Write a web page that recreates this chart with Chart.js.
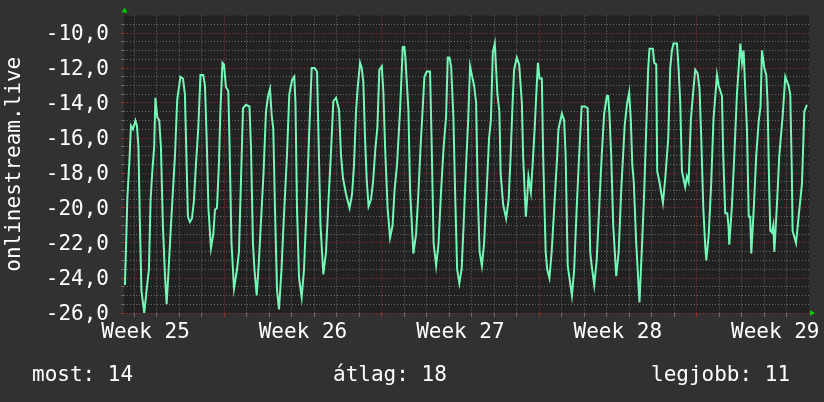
<!DOCTYPE html>
<html>
<head>
<meta charset="utf-8">
<script src="https://cdn.jsdelivr.net/npm/chart.js@4.4.1/dist/chart.umd.min.js"></script>
<style>
html, body { margin: 0; padding: 0; background: #313131; }
#wrap { width: 824px; height: 402px; }
</style>
</head>
<body>
<div id="wrap"><canvas id="chart" width="824" height="402"></canvas></div>
<script>
// time in hours, 0 = first day line of the graph
const hours = [
  -10.0, -7.4, -5.2, -3.6, -1.5, 1.2, 2.8, 4.4, 6.0, 7.6, 10.6, 13.5, 15.6, 17.4, 19.1, 21.2, 22.5, 24.5, 26.6, 28.4,
  30.5, 32.7, 34.5, 36.4, 39.1, 40.7, 43.4, 45.8, 49.2, 51.9, 54.0, 55.6, 57.2, 59.4, 61.5, 63.6, 65.8, 68.2, 70.6, 73.6,
  75.4, 77.2, 79.1, 81.8, 84.3, 86.1, 88.2, 90.3, 91.9, 94.1, 95.7, 97.8, 100.3, 101.5, 103.7, 106.4, 109.6, 111.7, 113.8, 116.0,
  119.2, 122.9, 124.5, 126.6, 128.2, 130.6, 133.0, 137.9, 140.5, 142.7, 144.8, 146.6, 148.3, 150.1, 152.3, 154.4, 157.1, 159.2, 162.9, 165.4,
  168.3, 170.7, 172.0, 173.6, 175.8, 178.6, 181.1, 183.8, 186.4, 189.3, 192.3, 195.0, 196.6, 198.7, 201.7, 204.6, 207.3, 209.9, 212.4, 215.3,
  218.5, 220.6, 222.7, 225.9, 229.7, 232.4, 234.5, 236.6, 238.4, 240.9, 242.7, 244.4, 246.2, 248.0, 250.0, 252.6, 254.8, 257.4, 259.4, 261.5,
  264.1, 265.8, 267.6, 270.3, 272.9, 275.6, 277.7, 280.4, 283.6, 286.5, 288.2, 289.3, 292.5, 294.3, 297.8, 300.7, 302.8, 305.5, 309.6, 312.1,
  315.6, 317.2, 319.4, 322.1, 324.7, 327.4, 330.1, 332.7, 334.5, 336.3, 338.1, 340.5, 342.3, 344.5, 346.9, 349.3, 351.4, 354.1, 356.2, 358.3,
  360.2, 362.6, 364.8, 366.4, 368.5, 370.9, 373.3, 376.0, 378.6, 380.5, 382.6, 384.7, 387.5, 389.6, 390.9, 393.6, 396.8, 399.5, 401.6, 403.7,
  405.3, 408.2, 410.7, 413.6, 414.9, 417.8, 419.2, 420.6, 423.2, 425.1, 427.2, 428.8, 430.7, 432.4, 434.9, 436.3, 439.0, 440.6, 443.0, 445.4,
  448.1, 451.3, 452.6, 456.3, 458.7, 460.3, 462.5, 464.1, 467.0, 469.4, 472.1, 474.7, 477.4, 481.2, 483.8, 484.9, 486.5, 487.6, 490.8, 493.4,
  496.1, 498.8, 501.4, 504.3, 505.7, 507.1, 508.9, 511.1, 514.3, 516.9, 519.6, 523.3, 525.7, 528.1, 529.9, 531.4, 533.0, 535.6, 539.1, 541.5,
  544.2, 547.0, 548.4, 549.8, 553.4, 554.8, 557.0, 558.0, 560.7, 564.1, 566.6, 569.8, 571.9, 573.7, 575.4, 579.1, 580.8, 582.6, 584.4, 587.9,
  589.7, 591.5, 594.0, 596.2, 598.6, 601.1, 603.2, 605.0, 607.2, 609.3, 610.4, 613.0, 615.7, 618.1, 621.8, 623.5, 627.1, 628.5, 630.6, 632.8,
  634.2, 634.9, 637.6, 640.3, 643.1, 646.7, 648.5, 650.2, 652.0, 653.8, 655.7, 657.3, 658.4, 661.1, 663.7, 666.4, 668.3, 669.8, 672.3, 674.4,
  675.8, 677.6, 678.7, 680.5, 681.9, 683.0, 685.6, 688.3, 691.8, 694.7, 698.2, 700.0, 701.7, 702.5, 706.2, 708.9, 712.5, 715.0, 717.7
];
const temps = [
  -24.4, -19.4, -17.3, -15.3, -15.5, -15.0, -15.3, -16.5, -21.0, -24.7, -26.0, -24.5, -23.5, -19.5, -18.0, -16.5, -13.7, -14.8, -15.0, -16.5,
  -21.0, -23.8, -25.5, -23.7, -21.0, -19.5, -17.0, -13.8, -12.5, -12.6, -13.5, -17.0, -20.5, -20.8, -20.6, -19.6, -17.5, -15.5, -12.4, -12.4,
  -13.0, -16.0, -20.0, -22.3, -21.5, -20.1, -20.0, -17.5, -14.4, -11.7, -11.8, -13.1, -13.3, -16.0, -22.0, -24.6, -23.5, -22.5, -18.5, -14.3,
  -14.1, -14.2, -16.5, -22.0, -23.5, -25.0, -23.0, -18.0, -14.5, -13.6, -13.2, -14.7, -15.5, -20.0, -24.7, -25.8, -23.5, -21.0, -17.0, -13.5,
  -12.7, -12.5, -14.0, -20.0, -24.0, -25.1, -23.5, -20.0, -16.0, -12.0, -12.0, -12.2, -16.0, -21.0, -23.8, -22.5, -19.5, -16.8, -13.9, -13.7,
  -14.4, -17.0, -18.3, -19.2, -20.0, -19.2, -17.5, -14.5, -13.1, -11.7, -12.0, -12.8, -16.0, -18.4, -19.9, -19.5, -18.5, -16.5, -15.4, -12.1,
  -11.9, -13.4, -16.5, -20.0, -21.7, -21.0, -19.0, -17.5, -14.4, -10.8, -10.8, -11.4, -14.4, -19.0, -22.6, -21.5, -19.5, -16.5, -12.5, -12.2,
  -12.2, -16.0, -22.0, -23.3, -22.0, -19.0, -16.5, -14.8, -11.4, -11.4, -11.9, -14.8, -19.0, -23.5, -24.3, -23.5, -21.0, -17.5, -15.1, -11.9,
  -12.4, -13.0, -14.0, -19.0, -22.5, -23.3, -22.0, -19.0, -16.0, -15.0, -11.1, -10.6, -13.5, -14.5, -18.0, -19.8, -20.6, -19.5, -17.0, -14.0,
  -12.1, -11.4, -11.8, -14.0, -17.0, -20.5, -19.5, -18.2, -19.1, -17.5, -15.5, -13.7, -11.7, -12.6, -12.6, -17.0, -22.5, -23.5, -24.0, -22.5,
  -20.0, -17.0, -15.5, -14.6, -15.0, -17.0, -23.3, -23.9, -25.0, -23.5, -20.0, -17.0, -14.2, -14.2, -14.3, -18.0, -22.5, -23.1, -24.4, -23.0,
  -20.0, -17.0, -14.6, -13.6, -13.6, -14.7, -17.0, -21.0, -23.9, -22.5, -19.0, -15.3, -14.1, -13.4, -15.0, -17.5, -18.5, -22.0, -25.4, -22.5,
  -19.0, -14.3, -12.0, -10.9, -10.9, -11.7, -11.8, -17.9, -18.6, -19.7, -18.3, -16.0, -12.0, -11.0, -10.6, -10.6, -12.0, -14.0, -17.9, -18.8,
  -18.2, -18.5, -14.9, -13.5, -12.1, -12.3, -13.2, -16.0, -20.0, -22.2, -23.0, -21.5, -18.5, -14.9, -12.4, -13.0, -13.6, -17.0, -20.3, -20.3,
  -21.1, -22.1, -20.0, -17.0, -13.5, -10.6, -11.7, -11.0, -13.3, -15.5, -20.5, -20.5, -22.6, -20.0, -17.0, -15.0, -14.2, -11.0, -12.0, -12.4,
  -14.0, -19.0, -21.3, -21.4, -21.0, -22.5, -20.0, -17.0, -14.8, -12.5, -13.0, -13.5, -18.0, -21.3, -22.0, -20.5, -18.6, -14.5, -14.1
];

const weekHours = [12, 180, 348, 516, 684];
const weekLabels = ['Week 25', 'Week 26', 'Week 27', 'Week 28', 'Week 29'];
const majorHours = [96, 264, 432, 600];
const statNames = ['most', 'átlag', 'legjobb'];
const statValues = [14, 18, 11];
const yTitle = 'onlinestream.live';

const FONT = 'DejaVu Sans Mono';
const gridGray = 'rgba(125,125,125,0.8)';
const gridRed = 'rgba(160,50,50,0.95)';

// day lines + label positions on one axis
const dayHours = [];
for (let h = 0; h < 720; h += 24) dayHours.push(h);
const xTicks = dayHours.concat(weekHours).sort((a, b) => a - b);

function xGridColor(ctx) {
    const v = ctx.tick ? ctx.tick.value : null;
    if (weekHours.includes(v)) return 'rgba(0,0,0,0)';
    if (majorHours.includes(v)) return gridRed;
    return gridGray;
}

function isEven(v) {
    const r = Math.round(v);
    return Math.abs(v - r) < 1e-6 && r % 2 === 0;
}

function yGridColor(ctx) {
    const v = ctx.tick ? ctx.tick.value : null;
    if (v === null || v > -9.25) return 'rgba(0,0,0,0)';
    return isEven(v) ? gridRed : gridGray;
}

const backdrop = {
    id: 'backdrop',
    beforeDraw(chart) {
        const c = chart.ctx, a = chart.chartArea;
        c.save();
        c.fillStyle = '#313131';
        c.fillRect(0, 0, chart.width, chart.height);
        c.fillStyle = '#222222';
        c.fillRect(a.left, a.top, a.right - a.left, a.bottom - a.top);
        c.restore();
    },
    afterDraw(chart) {
        const c = chart.ctx, a = chart.chartArea;
        c.save();
        // axis arrows
        c.fillStyle = '#00cc00';
        c.beginPath();
        c.moveTo(a.left - 2.5, a.top - 3);
        c.lineTo(a.left + 3.5, a.top - 3);
        c.lineTo(a.left + 0.5, a.top - 8);
        c.closePath();
        c.fill();
        c.beginPath();
        c.moveTo(a.right + 1, a.bottom - 3);
        c.lineTo(a.right + 1, a.bottom + 3);
        c.lineTo(a.right + 6, a.bottom);
        c.closePath();
        c.fill();

        c.fillStyle = '#ffffff';
        c.font = '21px "' + FONT + '"';
        // y title
        c.save();
        c.translate(19.5, (a.top + a.bottom) / 2);
        c.rotate(-Math.PI / 2);
        c.textAlign = 'center';
        c.textBaseline = 'alphabetic';
        c.fillText(yTitle, 0, 0);
        c.restore();
        // legend line
        const xs = [32, 333, 651];
        c.textAlign = 'left';
        c.textBaseline = 'alphabetic';
        statNames.forEach((n, i) => c.fillText(n + ': ' + statValues[i], xs[i], 381));
        c.restore();
    }
};

new Chart(document.getElementById('chart'), {
    type: 'line',
    data: {
        datasets: [{
            data: hours.map((h, i) => ({ x: h, y: temps[i] })),
            borderColor: '#74f8b8',
            borderWidth: 2,
            pointRadius: 0,
            tension: 0,
            fill: false
        }]
    },
    options: {
        responsive: false,
        animation: false,
        devicePixelRatio: 1,
        layout: { padding: { top: 15.5, right: 15, left: 0, bottom: 0 } },
        plugins: { legend: { display: false }, tooltip: { enabled: false } },
        scales: {
            x: {
                type: 'linear',
                min: -11,
                max: 720,
                afterBuildTicks: scale => { scale.ticks = xTicks.map(v => ({ value: v })); },
                afterFit: scale => {
                    scale.height = 89;
                    scale.paddingLeft = 0;
                    scale.paddingRight = 0;
                },
                grid: {
                    color: xGridColor,
                    tickColor: xGridColor,
                    lineWidth: 1,
                    drawTicks: true,
                    tickLength: 4
                },
                border: { display: false, dash: [1, 2] },
                ticks: {
                    autoSkip: false,
                    maxRotation: 0,
                    padding: 3,
                    color: '#ffffff',
                    font: { family: FONT, size: 21 },
                    callback: v => {
                        const i = weekHours.indexOf(v);
                        return i >= 0 ? weekLabels[i] : '';
                    }
                }
            },
            y: {
                min: -26,
                max: -9,
                afterFit: scale => {
                    scale.width = 124;
                    scale.paddingTop = 0;
                    scale.paddingBottom = 0;
                },
                grid: {
                    color: yGridColor,
                    tickColor: yGridColor,
                    lineWidth: 1,
                    drawTicks: true,
                    tickLength: 3
                },
                border: { display: false, dash: [1, 2] },
                ticks: {
                    stepSize: 0.5,
                    autoSkip: false,
                    padding: 12,
                    labelOffset: 2,
                    color: '#ffffff',
                    font: { family: FONT, size: 21 },
                    callback: v => isEven(v) && v <= -10 ? v.toFixed(1).replace('.', ',') : ''
                }
            }
        }
    },
    plugins: [backdrop]
});
</script>
</body>
</html>
